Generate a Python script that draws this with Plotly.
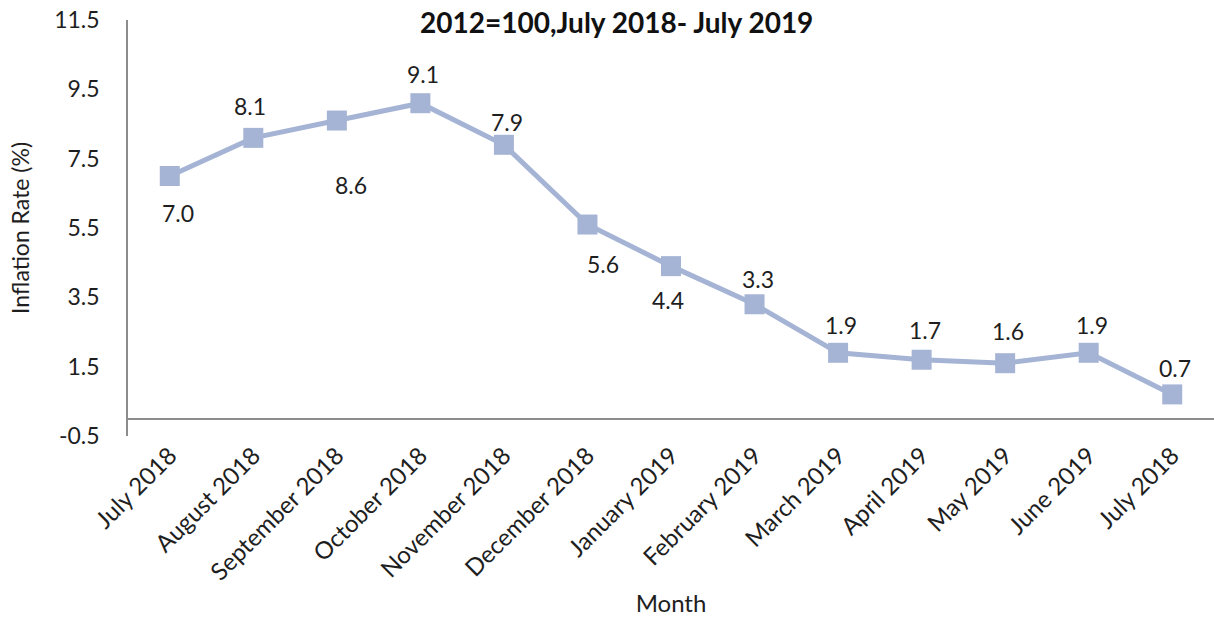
import plotly.graph_objects as go

months = ["July 2018", "August 2018", "September 2018", "October 2018", "November 2018",
          "December 2018", "January 2019", "February 2019", "March 2019", "April 2019",
          "May 2019", "June 2019", "July 2018 "]
month_labels = ["July 2018", "August 2018", "September 2018", "October 2018", "November 2018",
                "December 2018", "January 2019", "February 2019", "March 2019", "April 2019",
                "May 2019", "June 2019", "July 2018"]
inflation = [7.0, 8.1, 8.6, 9.1, 7.9, 5.6, 4.4, 3.3, 1.9, 1.7, 1.6, 1.9, 0.7]
# vertical offset (px) of each data label from its point (style only)
label_shift = [-37, 32, -64, 29, 23, -39, -34, 25, 28, 30, 32, 28, 26]
label_xshift = [8, -3, 14, 3, 3, 16, -3, 3, 3, 3, 3, 3, 3]
y_ticks = [-0.5, 1.5, 3.5, 5.5, 7.5, 9.5, 11.5]

FONT = "Lato, 'Open Sans', sans-serif"
COLOR = "#a5b4d5"
TXT = "#1e1e1e"

fig = go.Figure()
fig.add_trace(go.Scatter(
    x=months, y=inflation, mode="lines+markers",
    line=dict(color=COLOR, width=5),
    marker=dict(symbol="square", size=20, color=COLOR),
    cliponaxis=False,
))

for m, v, s, xs in zip(months, inflation, label_shift, label_xshift):
    fig.add_annotation(x=m, y=v, text=f"{v:.1f}", showarrow=False, yshift=s, xshift=xs,
                       font=dict(size=23, family=FONT, color=TXT))

fig.add_annotation(
    text="<b>2012=100,July 2018- July 2019</b>",
    xref="paper", yref="paper", x=0.45, y=1.0, yshift=17, yanchor="top",
    showarrow=False, font=dict(size=28, family=FONT, color="#111"),
)

fig.update_layout(
    width=1214, height=622,
    margin=dict(l=128, r=0, t=20, b=186),
    plot_bgcolor="white", paper_bgcolor="white",
    showlegend=False,
    font=dict(family=FONT, size=23, color=TXT),
)
fig.update_xaxes(
    type="category", tickvals=months, ticktext=month_labels, tickangle=-45,
    range=[-0.5, len(months) - 0.5],
    showgrid=False, showline=False, ticks="",
    title=dict(text="Month", font=dict(size=24, family=FONT), standoff=10),
    tickfont=dict(size=24, family=FONT, color=TXT),
)
fig.update_yaxes(
    range=[-0.5, 11.5], tickvals=y_ticks, ticktext=[f"{v:.1f}" for v in y_ticks],
    showgrid=False, showline=True, linecolor="#8c8c8c", linewidth=1.5,
    zeroline=True, zerolinecolor="#8c8c8c", zerolinewidth=1.5,
    ticks="", ticklabelstandoff=22,
    title=dict(text="Inflation Rate (%)", font=dict(size=23, family=FONT), standoff=18),
    tickfont=dict(size=23, family=FONT, color=TXT),
)

fig.write_html("out.html", config={"displayModeBar": False},
               post_script="document.body.style.margin='0';")
